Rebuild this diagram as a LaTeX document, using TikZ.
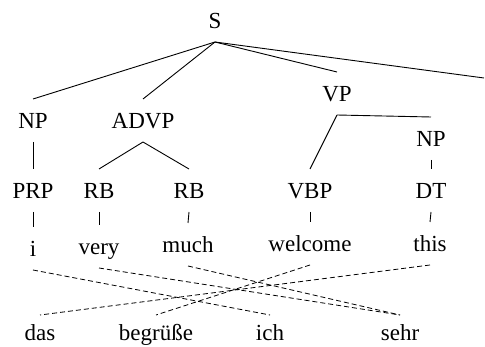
\documentclass[tikz,border=0pt]{standalone}
\usepackage{fontspec}
\setmainfont{Liberation Serif}
\usepackage{tikz}
\tikzstyle{treenode} = [anchor=base, inner sep=0pt, outer sep=0pt,
    text height=30pt, text depth=13pt, font=\fontsize{23}{27}\selectfont]
\tikzstyle{tgtword} = [treenode, text height=26pt, text depth=2pt]
\tikzstyle{branch} = [line width=0.9pt]
\tikzstyle{linkline} = [line width=0.8pt, dash pattern=on 5pt off 3pt]

\begin{document}
\begin{tikzpicture}[x=1pt, y=-1pt]
            \useasboundingbox (0,0) rectangle (485,347);
            % tree
            \node (S) [treenode] at (215,29) {S};
            \coordinate (Sfar) at (484,78);
            \node (np_i) [treenode] at (33,129) {NP};
            \node (advp) [treenode] at (143,129) {ADVP};
            \node (vp) [treenode] at (337,102) {VP};
            \node (np_this) [treenode] at (431,147) {NP};
            \node (prp) [treenode] at (33,199) {PRP};
            \node (rb_very) [treenode] at (99,199) {RB};
            \node (rb_much) [treenode] at (189,199) {RB};
            \node (vbp) [treenode] at (310,199) {VBP};
            \node (dt) [treenode] at (431,199) {DT};
            % source words
            \node (w_i) [treenode] at (33,257) {i};
            \node (w_very) [treenode] at (99,255) {very};
            \node (w_much) [treenode] at (188,253) {much};
            \node (w_welcome) [treenode] at (310,252) {welcome};
            \node (w_this) [treenode] at (430,252) {this};
            % target words
            \node (t_das) [tgtword] at (40,341) {das};
            \node (t_begr) [tgtword] at (156,341) {begrüße};
            \node (t_ich) [tgtword] at (270,341) {ich};
            \node (t_sehr) [tgtword] at (400,341) {sehr};

            \draw [branch] (S.south) -- (np_i.north);
            \draw [branch] (S.south) -- (advp.north);
            \draw [branch] (S.south) -- (vp.north);
            \draw [branch] (S.south) -- (Sfar);
            \draw [branch] (np_i.south) -- (prp.north);
            \draw [branch] (advp.south) -- (rb_very.north);
            \draw [branch] (advp.south) -- (rb_much.north);
            \draw [branch] (vp.south) -- (vbp.north);
            \draw [branch] (vp.south) -- (np_this.north);
            \draw [branch] (np_this.south) -- (dt.north);
            \draw [branch] (prp.south) -- (w_i.north);
            \draw [branch] (rb_very.south) -- (w_very.north);
            \draw [branch] (rb_much.south) -- (w_much.north);
            \draw [branch] (vbp.south) -- (w_welcome.north);
            \draw [branch] (dt.south) -- (w_this.north);

            % alignment
            \draw [linkline] (w_i.south) -- (t_ich.north);
            \draw [linkline] (w_very.south) -- (t_sehr.north);
            \draw [linkline] (w_much.south) -- (t_sehr.north);
            \draw [linkline] (w_welcome.south) -- (t_begr.north);
            \draw [linkline] (w_this.south) -- (t_das.north);
        \end{tikzpicture}
\end{document}
